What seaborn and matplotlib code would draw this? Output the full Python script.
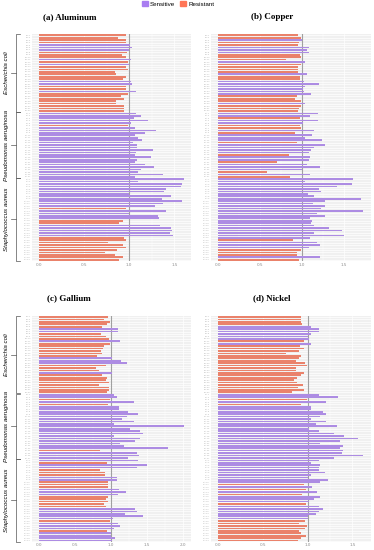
import numpy as np
import pandas as pd
import matplotlib
matplotlib.use("Agg")
import matplotlib.pyplot as plt
import seaborn as sns
from matplotlib.patches import Patch
from matplotlib.transforms import blended_transform_factory

# ----- data -----
species = ["Escherichia coli", "Pseudomonas aeruginosa", "Staphylococcus aureus"]
group_sizes = [32, 27, 34]
strains = ([f"EC {i}" for i in range(1, 33)] +
           [f"PA {i}" for i in range(1, 28)] +
           [f"SA {i}" for i in range(1, 35)])

aluminum = [0.96, 0.88, 0.96, 0.96, 1.01, 1.03, 1.00, 0.98, 0.92, 0.97, 1.02, 0.99, 1.00, 0.97, 0.99, 0.84,
            0.86, 0.96, 0.93, 1.02, 1.03, 0.96, 0.97, 1.08, 0.99, 0.91, 0.94, 0.86, 0.85, 0.94, 0.94, 0.94,
            1.08, 1.13, 1.05, 1.21, 1.02, 0.99, 1.06, 1.30, 1.18, 1.07, 1.10, 1.14, 1.04, 1.09, 1.09, 1.26,
            1.08, 1.07, 1.24, 1.09, 1.07, 1.18, 1.28, 1.13, 1.10, 1.37, 1.06,
            1.61, 1.10, 1.58, 1.57, 1.41, 1.39, 1.00, 1.46, 1.36, 1.59, 1.38, 1.29, 0.97, 1.41, 1.00, 1.32,
            1.33, 0.93, 0.89, 1.34, 1.46, 1.48, 1.45, 1.49, 0.94, 0.97, 0.77, 0.93, 0.97, 0.87, 0.73, 0.84,
            0.93, 0.89]

copper = [0.95, 0.99, 1.00, 0.97, 0.96, 1.08, 1.06, 1.08, 0.98, 0.99, 0.81, 1.04, 0.99, 0.95, 0.95, 0.95,
          1.06, 0.98, 0.98, 1.02, 1.20, 1.04, 1.01, 1.02, 1.11, 0.94, 0.92, 0.99, 1.04, 0.99, 0.97, 0.96,
          1.19, 1.10, 0.98, 1.19, 1.01, 0.98, 0.99, 1.15, 0.92, 1.12, 1.04, 1.24, 0.94, 1.27, 1.14, 1.11,
          1.08, 0.85, 1.10, 1.08, 0.71, 1.06, 1.22, 1.00, 0.59, 1.10, 0.86,
          1.61, 1.04, 1.60, 1.42, 1.20, 1.23, 1.07, 1.15, 1.70, 1.27, 1.13, 1.28, 1.23, 1.73, 1.18, 1.28,
          1.10, 1.12, 1.11, 1.15, 1.32, 1.48, 1.14, 1.50, 1.10, 0.90, 1.18, 1.21, 1.08, 0.99, 0.94, 0.94,
          1.21, 0.97]

gallium = [0.96, 0.90, 0.99, 0.95, 0.88, 1.10, 1.10, 0.86, 0.94, 0.98, 1.13, 0.99, 0.91, 0.89, 0.86, 0.88,
           0.81, 1.01, 1.14, 1.23, 0.94, 0.80, 0.83, 1.02, 0.88, 0.95, 0.93, 0.97, 0.84, 0.98, 0.98, 0.95,
           1.05, 1.09, 0.99, 1.32, 0.96, 1.11, 1.11, 1.24, 1.38, 1.22, 1.15, 1.32, 1.04, 2.02, 1.26, 1.40,
           1.45, 1.04, 1.41, 1.34, 1.13, 1.18, 1.79, 0.85, 1.37, 1.39, 1.24,
           1.38, 0.95, 1.50, 1.37, 0.85, 0.92, 0.92, 1.09, 1.09, 0.96, 0.96, 0.96, 1.12, 1.21, 1.10, 0.96,
           0.93, 0.96, 0.91, 0.94, 1.33, 1.36, 1.20, 1.45, 1.03, 0.99, 1.10, 1.13, 1.05, 0.95, 1.00, 1.00,
           1.06, 1.01]

nickel = [0.93, 0.93, 0.93, 0.94, 1.04, 1.13, 1.13, 1.04, 1.01, 1.02, 0.96, 1.04, 0.92, 0.96, 0.91, 0.76,
          0.93, 0.91, 0.87, 0.97, 0.99, 0.87, 0.87, 0.96, 0.93, 0.88, 0.85, 0.88, 0.95, 0.89, 0.96, 0.83,
          1.13, 1.34, 0.99, 1.20, 0.93, 1.04, 1.04, 1.17, 1.20, 1.14, 1.04, 1.21, 1.09, 1.33, 1.02, 1.13,
          1.29, 1.41, 1.56, 1.36, 1.14, 1.39, 1.36, 1.39, 1.38, 1.62, 1.30,
          1.13, 1.04, 1.14, 1.13, 1.13, 1.19, 1.04, 1.00, 1.23, 1.14, 0.96, 1.05, 0.98, 1.10, 0.94, 1.14,
          1.07, 1.02, 0.98, 1.13, 1.17, 1.13, 1.09, 1.01, 1.01, 0.97, 0.91, 0.99, 0.97, 0.91, 0.93, 0.98,
          0.93, 0.89]

panels = [("(a) Aluminum", aluminum), ("(b) Copper", copper),
          ("(c) Gallium", gallium), ("(d) Nickel", nickel)]

colors = {"Sensitive": "#A97DF1", "Resistant": "#FF7556"}

# ----- layout (pixels) -----
W, H = 374, 550
cols = [(31.5, 191.5), (210.5, 370.5)]
rows = [(33.8, 261.2), (315.5, 542.0)]
title_pos = [(69.5, 17), (272, 17), (69, 298), (272, 298)]

fig = plt.figure(figsize=(W / 100, H / 100), dpi=100)

n = len(strains)
for k, (title, vals) in enumerate(panels):
    r, c = divmod(k, 2)
    x0, x1 = cols[c]
    yt, yb = rows[r]
    ax = fig.add_axes([x0 / W, 1 - yb / H, (x1 - x0) / W, (yb - yt) / H])

    df = pd.DataFrame({"strain": strains, "ratio": vals})
    df["status"] = np.where(df["ratio"] >= 1.0, "Sensitive", "Resistant")

    ax.set_facecolor("#F0F0F0")
    ax.set_axisbelow(True)
    sns.barplot(data=df, x="ratio", y="strain", hue="status", palette=colors,
                hue_order=["Sensitive", "Resistant"], dodge=False, width=0.68,
                errorbar=None, legend=False, ax=ax)

    vmax = max(vals)
    ax.set_xlim(-0.05 * vmax, 1.05 * vmax)
    ax.set_ylim(n - 1 + 0.6, -0.6)
    ax.set_xticks(np.arange(0, vmax + 0.01, 0.5))
    ax.set_xticks(np.arange(0.25, vmax + 0.01, 0.5), minor=True)
    ax.xaxis.set_major_formatter(matplotlib.ticker.FormatStrFormatter("%.1f"))
    ax.grid(True, which="major", axis="both", color="white", lw=0.5)
    ax.grid(True, which="minor", axis="x", color="white", lw=0.3)
    ax.axvline(1.0, color="#A0A0A0", lw=0.8, zorder=0.9)

    ax.set_xlabel("")
    ax.set_ylabel("")
    for s in ax.spines.values():
        s.set_visible(False)
    ax.tick_params(axis="x", which="both", length=0, pad=1, labelsize=3, labelcolor="#8C8C8C")
    ax.tick_params(axis="y", length=0, pad=1, labelsize=1.4, labelcolor="#A8A8A8")

    fig.text(title_pos[k][0] / W, 1 - title_pos[k][1] / H, title,
             ha="center", va="center", fontsize=6.5, fontweight="bold",
             family="Liberation Serif")

    if c == 0:
        tr = blended_transform_factory(ax.transAxes, ax.transData)
        bx = (16 - x0) / (x1 - x0)
        ex = (19.5 - x0) / (x1 - x0)
        mx = (11 - x0) / (x1 - x0)
        tx = (6.5 - x0) / (x1 - x0)
        start = 0
        for name, size in zip(species, group_sizes):
            top = start - 0.4
            bot = start + size - 0.6
            mid = (top + bot) / 2
            ax.plot([ex, bx, bx, ex], [top, top, bot, bot], transform=tr,
                    color="#555555", lw=0.5, clip_on=False)
            ax.plot([mx, bx], [mid, mid], transform=tr,
                    color="#555555", lw=0.5, clip_on=False)
            ax.text(tx, mid, name, transform=tr, rotation=90, ha="center",
                    va="center", fontsize=4.4, style="italic", family="Liberation Sans")
            start += size

handles = [Patch(color=colors["Sensitive"], label="Sensitive"),
           Patch(color=colors["Resistant"], label="Resistant")]
fig.legend(handles=handles, loc="upper center", bbox_to_anchor=(0.476, 1.003), ncol=2,
           frameon=False, handlelength=1.0, handleheight=1.0,
           columnspacing=0.8, handletextpad=0.3, borderaxespad=0.0,
           prop={"family": "Liberation Sans", "size": 4.5})

fig.savefig("out.png", dpi=100)
